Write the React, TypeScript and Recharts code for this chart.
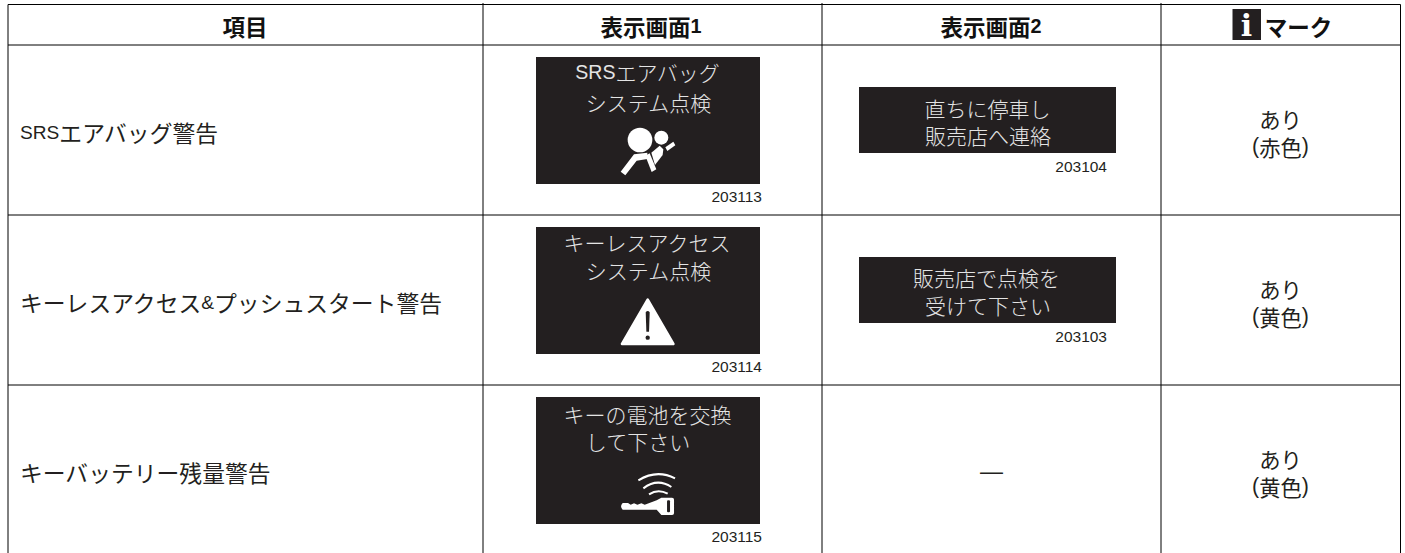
import { ScatterChart, Scatter, XAxis, YAxis, ReferenceLine, ReferenceArea } from 'recharts'

const headers = ['項目', '表示画面1', '表示画面2', 'マーク']
const items = ['SRSエアバッグ警告', 'キーレスアクセス&プッシュスタート警告', 'キーバッテリー残量警告']
const screen1Lines = [
  ['SRSエアバッグ', 'システム点検'],
  ['キーレスアクセス', 'システム点検'],
  ['キーの電池を交換', 'して下さい'],
]
const screen1Codes = ['203113', '203114', '203115']
const screen1Icons = ['airbag', 'warning', 'key']
const screen2Lines = [
  ['直ちに停車し', '販売店へ連絡'],
  ['販売店で点検を', '受けて下さい'],
]
const screen2Codes = ['203104', '203103']
const noScreen = '—'
const marks = [
  ['あり', '(赤色)'],
  ['あり', '(黄色)'],
  ['あり', '(黄色)'],
]

// table layout, in page pixels
const W = 1405
const H = 553
const columnEdges = [8, 483, 822, 1161, 1400.5]
const rowEdges = [4.5, 45, 215, 385]
const ink = '#231f20'
const CJK = '"Noto Sans CJK JP", sans-serif'
const LATIN = '"Liberation Sans", sans-serif'

type Kind = 'head' | 'item' | 'panel' | 'code' | 'mark' | 'dash' | 'info'
type Cell = { x: number; y: number; text: string; kind: Kind; anchor?: string }

const kinds: Record<Kind, { size: number; weight: number; fill: string; latin: number }> = {
  head: { size: 22.5, weight: 700, fill: '#111', latin: 0.88 },
  item: { size: 22.8, weight: 400, fill: ink, latin: 0.84 },
  panel: { size: 21, weight: 300, fill: '#e4e4e4', latin: 0.93 },
  code: { size: 15.5, weight: 400, fill: ink, latin: 1 },
  mark: { size: 21.3, weight: 400, fill: ink, latin: 1 },
  dash: { size: 23, weight: 400, fill: ink, latin: 1 },
  info: { size: 30, weight: 700, fill: '#fff', latin: 1 },
}

const panel1Y = [
  [72, 102],
  [242, 270],
  [414, 441],
]
const panel1X = [
  [647.5, 648.5],
  [647, 648.5],
  [647.5, 638],
]
const panel2Y = [
  [108, 135],
  [277, 305],
]
const panel2X = [
  [987.5, 988],
  [986.5, 988],
]

const headX = [245, 651, 991, 1298.5]
const cells: Cell[] = [
  ...headers.map((text, i) => ({ x: headX[i], y: 25.5, text, kind: 'head' as Kind })),
  ...items.map((text, i) => ({
    x: 20,
    y: rowEdges[i + 1] + 87,
    text,
    kind: 'item' as Kind,
    anchor: 'start',
  })),
  ...screen1Lines.flatMap((lines, r) =>
    lines.map((text, l) => ({ x: panel1X[r][l], y: panel1Y[r][l], text, kind: 'panel' as Kind })),
  ),
  ...screen2Lines.flatMap((lines, r) =>
    lines.map((text, l) => ({ x: panel2X[r][l], y: panel2Y[r][l], text, kind: 'panel' as Kind })),
  ),
  ...screen1Codes.map((text, i) => ({
    x: 762,
    y: rowEdges[i + 1] + 151,
    text,
    kind: 'code' as Kind,
    anchor: 'end',
  })),
  ...screen2Codes.map((text, i) => ({
    x: 1107,
    y: rowEdges[i + 1] + 121,
    text,
    kind: 'code' as Kind,
    anchor: 'end',
  })),
  { x: 991.5, y: 471, text: noScreen, kind: 'dash' },
  ...marks.flatMap((lines, r) =>
    lines.map((text, l) => ({
      x: 1280.5,
      y: rowEdges[r + 1] + 73 + l * 28,
      text,
      kind: 'mark' as Kind,
    })),
  ),
  { x: 1246.5, y: 25, text: 'i', kind: 'info' },
]

const iconPoints = [
  { x: 640, y: 140, icon: screen1Icons[0] },
  { x: 647.7, y: 321.7, icon: screen1Icons[1] },
  { x: 647.7, y: 495, icon: screen1Icons[2] },
]

// latin runs are set smaller than the Japanese, like the printed original
function runs(text: string) {
  return text.match(/[\x20-\x7e]+|[^\x20-\x7e]+/g) ?? []
}

function TextCell(props: any) {
  const { cx, cy, payload } = props
  const k = kinds[payload.kind as Kind]
  const plainFont = payload.kind === 'info' ? '"DejaVu Serif", serif' : LATIN
  const allLatin = payload.kind === 'code' || payload.kind === 'dash' || payload.kind === 'info'
  return (
    <text
      x={cx}
      y={cy}
      textAnchor={payload.anchor ?? 'middle'}
      dominantBaseline="central"
      fontWeight={k.weight}
      fill={k.fill}
      fontSize={k.size}
      fontFamily={CJK}
    >
      {runs(payload.text).map((r, i) =>
        /^[\x20-\x7e]/.test(r) || allLatin ? (
          <tspan key={i} fontFamily={plainFont} fontSize={k.size * k.latin}>
            {r}
          </tspan>
        ) : (
          <tspan key={i}>{r}</tspan>
        ),
      )}
    </text>
  )
}

function IconCell(props: any) {
  const { cx, cy, payload } = props
  if (payload.icon === 'airbag') {
    return (
      <g transform={`translate(${cx} ${cy}) scale(0.3333) translate(-240 -90)`} fill="#fff">
        <circle cx={240} cy={90} r={37} />
        <circle cx={304} cy={83} r={21} />
        <path d="M182 185 L222 133 L262 128 L262 147 L230 152 L196 196 Z" />
        <path d="M256 137 L269 130 L289 178 L275 186 Z" />
        <path d="M274 128 L299 107 L310 118 L308 135 L285 165 Z" />
        <path d="M316 112 L340 95 L346 106 L322 123 Z" />
      </g>
    )
  }
  if (payload.icon === 'warning') {
    return (
      <g transform={`translate(${cx} ${cy}) scale(0.3333) translate(-443 -350)`}>
        <path d="M443 284 L520 417 L366 417 Z" fill="#fff" stroke="#fff" strokeWidth={8} strokeLinejoin="round" />
        <path d="M437 322 Q443 314 449 322 L447 380 L439 380 Z" fill={ink} />
        <circle cx={443} cy={398} r={6.5} fill={ink} />
      </g>
    )
  }
  return (
    <g transform={`translate(${cx} ${cy}) scale(0.3333) translate(-443 -870)`}>
      <g fill="none" stroke="#fff" strokeWidth={6} strokeLinecap="butt">
        <path d="M415 826 Q470 792 525 820" />
        <path d="M430 850 Q472 818 514 846" />
        <path d="M447 868 Q474 850 503 866" />
      </g>
      <path
        d="M368 894 L384 894 L392 899 L402 895 L412 899 L424 895 L434 899 L470 886 L484 878 L516 878 Q522 878 522 884 L522 924 Q522 930 516 930 L484 930 L470 914 L368 914 Q358 904 368 894 Z"
        fill="#fff"
      />
      <rect x={501} y={886} width={9} height={36} rx={3} fill={ink} />
    </g>
  )
}

const panelRect = (x1: number, x2: number, y1: number, y2: number, key: string) => (
  <ReferenceArea key={key} x1={x1} x2={x2} y1={y1} y2={y2} fill={ink} fillOpacity={1} stroke="none" ifOverflow="visible" />
)

export default function App() {
  return (
    <div style={{ position: 'absolute', left: 0, top: 0, width: W, height: H, background: '#fff' }}>
      <ScatterChart width={W} height={H} margin={{ top: 0, right: 0, bottom: 0, left: 0 }}>
        <XAxis type="number" dataKey="x" domain={[0, W]} allowDataOverflow hide />
        <YAxis type="number" dataKey="y" domain={[0, H]} allowDataOverflow reversed hide />

        {rowEdges.map((y) => (
          <ReferenceLine
            key={y}
            segment={[{ x: columnEdges[0], y }, { x: columnEdges[4], y }]}
            stroke="#000"
            strokeWidth={1}
          />
        ))}
        {columnEdges.map((x, i) => (
          <ReferenceLine
            key={x}
            segment={[{ x, y: i === 0 || i === 4 ? rowEdges[0] : 3 }, { x, y: H }]}
            stroke="#000"
            strokeWidth={1}
          />
        ))}

        {screen1Lines.map((_, r) => panelRect(536, 760, rowEdges[r + 1] + 12, rowEdges[r + 1] + 139, `a${r}`))}
        {screen2Lines.map((_, r) => panelRect(859, 1116, rowEdges[r + 1] + 42, rowEdges[r + 1] + 108, `b${r}`))}
        {panelRect(1232.5, 1261, 9, 40, 'info')}

        <Scatter data={iconPoints} shape={IconCell} isAnimationActive={false} />
        <Scatter data={cells} shape={TextCell} isAnimationActive={false} />
      </ScatterChart>
    </div>
  )
}
